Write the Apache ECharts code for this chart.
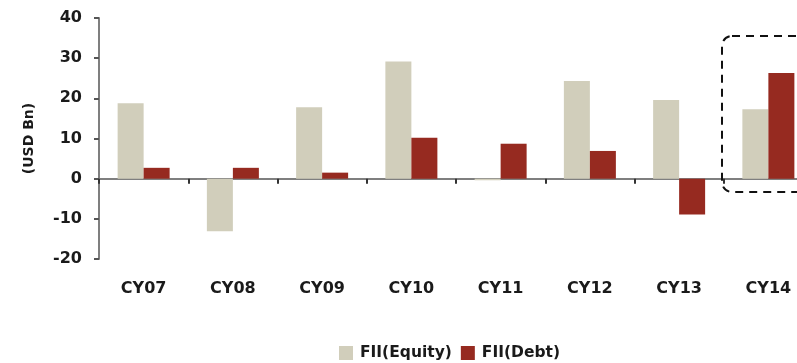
<!DOCTYPE html>
<html>
<head>
<meta charset="utf-8">
<script src="https://cdn.jsdelivr.net/npm/echarts@6/dist/echarts.min.js"></script>
<style>
  html, body { margin: 0; padding: 0; background: #fff; }
  #chart { width: 797px; height: 363px; }
</style>
</head>
<body>
<div id="chart"></div>
<script>
// FII flows by calendar year, USD billions
const categories = ['CY07', 'CY08', 'CY09', 'CY10', 'CY11', 'CY12', 'CY13', 'CY14'];
const equityFlows = [18.8, -13.1, 17.8, 29.2, -0.4, 24.3, 19.6, 17.3];
const debtFlows = [2.7, 2.7, 1.5, 10.2, 8.7, 6.9, -8.9, 26.3];
const seriesNames = ['FII(Equity)', 'FII(Debt)'];

const FONT = 'Verdana, "DejaVu Sans", sans-serif';
const chart = echarts.init(document.getElementById('chart'), null, { renderer: 'canvas' });

chart.setOption({
  animation: false,
  backgroundColor: '#ffffff',
  grid: { left: 99, top: 18, width: 714, bottom: 104, containLabel: false, outerBoundsMode: 'none' },
  legend: {
    left: 334,
    top: 340,
    padding: [5, 5, 5, 5],
    itemWidth: 14,
    itemHeight: 14,
    itemGap: 9,
    icon: 'rect',
    textStyle: { fontFamily: FONT, fontWeight: 'bold', fontSize: 15.5, color: '#1a1a1a', padding: [0, 0, 0, 2] },
    data: seriesNames
  },
  xAxis: {
    type: 'category',
    data: categories,
    axisLine: { onZero: true, lineStyle: { color: '#7f7f7f', width: 2 } },
    axisTick: { show: true, length: 5, inside: false, lineStyle: { color: '#333', width: 2 } },
    axisLabel: { margin: 22, fontFamily: FONT, fontWeight: 'bold', fontSize: 16, color: '#1a1a1a' },
    splitLine: { show: false }
  },
  yAxis: {
    type: 'value',
    min: -20,
    max: 40,
    interval: 10,
    name: '(USD Bn)',
    nameLocation: 'middle',
    nameRotate: 90,
    nameGap: 63,
    nameTextStyle: { fontFamily: FONT, fontWeight: 'bold', fontSize: 14, color: '#1a1a1a' },
    axisLine: { show: true, lineStyle: { color: '#7f7f7f', width: 2 } },
    axisTick: { show: true, length: 5, lineStyle: { color: '#555', width: 2 } },
    axisLabel: { margin: 17, fontFamily: FONT, fontWeight: 'bold', fontSize: 16, color: '#1a1a1a' },
    splitLine: { show: false }
  },
  series: [
    {
      name: seriesNames[0],
      type: 'bar',
      data: equityFlows,
      barWidth: 26,
      barGap: '0%',
      itemStyle: { color: '#d1cebb' }
    },
    {
      name: seriesNames[1],
      type: 'bar',
      data: debtFlows,
      barWidth: 26,
      barGap: '0%',
      itemStyle: { color: '#962a20' }
    }
  ],
  graphic: [
    {
      type: 'rect',
      shape: { x: 722, y: 36, width: 110, height: 156, r: 10 },
      style: { fill: 'none', stroke: '#111', lineWidth: 2, lineDash: [8, 6] },
      z: 100
    }
  ]
});
</script>
</body>
</html>
